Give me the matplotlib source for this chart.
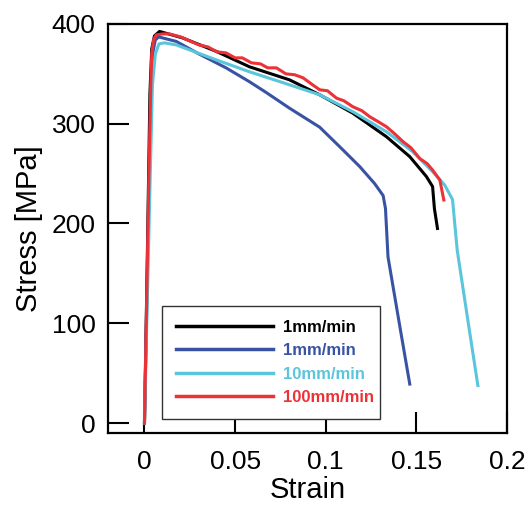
import numpy as np
import matplotlib.pyplot as plt

plt.rcParams['font.family'] = ['Liberation Sans', 'DejaVu Sans']

# strain / stress
strain_k = [0.0, 0.0015, 0.0030, 0.0040, 0.0055, 0.0083, 0.021, 0.0396, 0.058, 0.080,
            0.0967, 0.115, 0.1335, 0.1464, 0.1556, 0.1590, 0.1600, 0.1617]
stress_k = [0, 160, 330, 375, 388, 392.5, 386, 372.5, 357, 344,
            329, 310.5, 287, 267, 247, 237, 215, 195]

strain_b = [0.0, 0.0017, 0.0035, 0.0045, 0.0060, 0.0078, 0.0175, 0.030, 0.045, 0.058,
            0.067, 0.080, 0.0967, 0.1077, 0.1188, 0.127, 0.1317, 0.1330, 0.1344, 0.141,
            0.1464]
stress_b = [0, 160, 330, 370, 384, 387, 382.5, 370, 356, 342,
            331.5, 315.6, 296.5, 277, 257, 240, 228, 215, 166.4, 96,
            39]

strain_c = [0.0, 0.0031, 0.0044, 0.0060, 0.0080, 0.011, 0.0175, 0.0396, 0.058, 0.080,
            0.0967, 0.115, 0.1335, 0.148, 0.159, 0.1657, 0.1700, 0.1726, 0.1796, 0.1840]
stress_c = [0, 243, 339, 370, 380, 381, 379, 364, 352, 339,
            329, 312, 292, 272, 252, 238.5, 224, 173, 89.5, 37.5]

strain_r = [0.0, 0.0024, 0.0035, 0.0040, 0.0050, 0.0065, 0.0100, 0.0138, 0.020, 0.025,
            0.030, 0.035, 0.040, 0.045, 0.050, 0.054, 0.059, 0.064, 0.068, 0.0728,
            0.078, 0.083, 0.0875, 0.092, 0.0967, 0.101, 0.106, 0.110, 0.115, 0.120,
            0.1243, 0.129, 0.1335, 0.138, 0.1427, 0.147, 0.152, 0.156, 0.159, 0.163,
            0.1652]
stress_r = [0, 243, 340, 370, 384, 389, 390, 390, 387, 383,
            379, 377, 372, 371, 366, 366, 361, 360, 356, 356,
            350, 349, 346, 340, 334, 333, 325.6, 323, 317, 313,
            307, 302, 297, 290, 282, 276, 265, 260, 253.6, 243.5,
            223.5]

labels = ['1mm/min', '1mm/min', '10mm/min', '100mm/min']
colors = ['#000000', '#3953a4', '#5bc5db', '#ed3237']

fig = plt.figure(figsize=(5.28, 5.05), dpi=100)
ax = fig.add_axes([0.205, 0.1426, 0.755, 0.81])

for xs, ys, c, lab in zip([strain_k, strain_b, strain_c, strain_r],
                          [stress_k, stress_b, stress_c, stress_r], colors, labels):
    ax.plot(xs, ys, color=c, lw=2.2, label=lab, solid_joinstyle='round')

ax.set_xlim(-0.02, 0.2)
ax.set_ylim(-10, 400)
ax.set_xticks([0, 0.05, 0.1, 0.15, 0.2])
ax.set_xticklabels(['0', '0.05', '0.1', '0.15', '0.2'])
ax.set_yticks([0, 100, 200, 300, 400])
ax.tick_params(direction='in', length=15, width=1.5, labelsize=19, pad=9)
ax.tick_params(axis='x', pad=12)
for s in ax.spines.values():
    s.set_linewidth(1.6)

ax.set_xlabel('Strain', fontsize=21, labelpad=2)
ax.set_ylabel('Stress [MPa]', fontsize=21, labelpad=6)

leg = ax.legend(loc='lower left', bbox_to_anchor=(0.135, 0.034, 0.547, 0.274),
                mode='expand', fancybox=False, framealpha=1, edgecolor='#333333',
                prop={'weight': 'bold', 'size': 12}, handlelength=5.8,
                handletextpad=0.6, borderaxespad=0, labelspacing=0.5,
                borderpad=0.85)
leg.get_frame().set_linewidth(1.0)
for t, c in zip(leg.get_texts(), colors):
    t.set_color(c)
for h in leg.get_lines():
    h.set_linewidth(2.5)

fig.savefig('out.png', dpi=100)
